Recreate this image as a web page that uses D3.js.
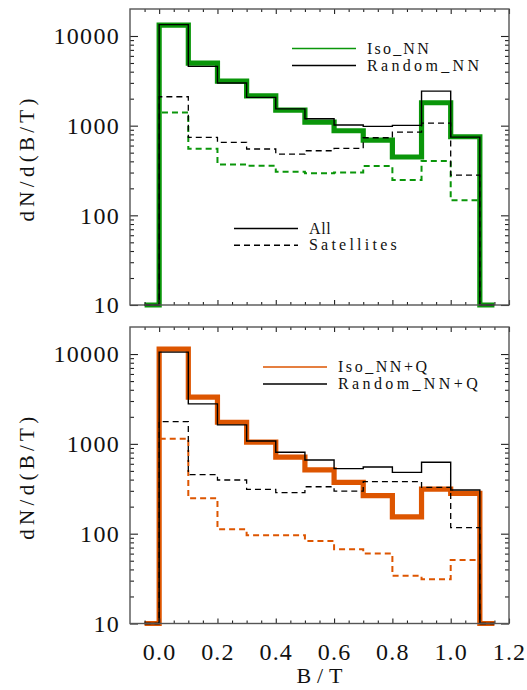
<!DOCTYPE html>
<html>
<head>
<meta charset="utf-8">
<script src="https://cdn.jsdelivr.net/npm/d3@7"></script>
<style>
  html, body { margin: 0; padding: 0; background: #fff; }
  svg { display: block; }
  text { font-family: "Liberation Serif", "Times New Roman", serif; fill: #111; }
</style>
</head>
<body>
<svg id="chart" width="527" height="690"></svg>
<script>
// ---------- data ----------
const binEdges = [0.0, 0.1, 0.2, 0.3, 0.4, 0.5, 0.6, 0.7, 0.8, 0.9, 1.0, 1.1];
const floorValue = 10;

// top panel
const isoNN_all       = [13250, 4990, 3140, 2150, 1490, 1097, 877, 691, 447, 1800, 752];
const randomNN_all    = [13400, 4580, 2990, 2070, 1540, 1194, 1016, 982, 1007, 2430, 745];
const isoNN_sat       = [1406, 553, 370, 357, 306, 294, 301, 355, 248, 403, 147];
const randomNN_sat    = [2100, 741, 652, 549, 482, 525, 558, 733, 849, 1069, 281];

// bottom panel
const isoNNQ_all      = [11350, 3310, 1740, 1043, 710, 512, 373, 265, 154, 314, 281];
const randomNNQ_all   = [10500, 2790, 1625, 1077, 806, 662, 530, 552, 482, 624, 306];
const isoNNQ_sat      = [1143, 248, 112, 96, 96, 83, 67, 60, 34, 31, 51];
const randomNNQ_sat   = [1770, 454, 396, 312, 286, 333, 298, 379, 379, 328, 117];

const yMajorTicks = [10, 100, 1000, 10000];
const xMajorTicks = [0.0, 0.2, 0.4, 0.6, 0.8, 1.0, 1.2];
const topLegend = ["Iso_NN", "Random_NN"];
const botLegend = ["Iso_NN+Q", "Random_NN+Q"];
const typeLegend = ["All", "Satellites"];

// ---------- layout ----------
const svg = d3.select("#chart");
const green = "#0a960a";
const orange = "#dd5500";
const frameColor = "#555";

const x = d3.scaleLinear().domain([-0.1, 1.2]).range([130, 509]);
const binW = 0.1;

const panels = [
  { top: 9, bottom: 305, color: green,
    series: [isoNN_all, isoNN_sat, randomNN_all, randomNN_sat],
    legend: topLegend, legendX: 292, legendY: 48.5, xLabels: false, typeLegend: true },
  { top: 327, bottom: 623.5, color: orange,
    series: [isoNNQ_all, isoNNQ_sat, randomNNQ_all, randomNNQ_sat],
    legend: botLegend, legendX: 263, legendY: 367, xLabels: true, typeLegend: false }
];

function histPoints(vals) {
  const pts = [[binEdges[0] - binW / 2, floorValue]];
  vals.forEach((v, i) => pts.push([binEdges[i], v]));
  pts.push([binEdges[binEdges.length - 1], floorValue]);
  pts.push([binEdges[binEdges.length - 1] + binW / 2, floorValue]);
  return pts;
}

const xMinor = d3.range(-0.05, 1.2001, 0.05)
  .map(v => Math.round(v * 100) / 100)
  .filter(v => !xMajorTicks.some(m => Math.abs(m - v) < 1e-6));

panels.forEach(p => {
  const y = d3.scaleLog().domain([10, 20000]).range([p.bottom, p.top]);
  const g = svg.append("g");
  const yMinor = y.ticks().filter(v => !yMajorTicks.includes(v) && v < 20000);

  const line = d3.line()
    .x(d => x(d[0]))
    .y(d => y(d[1]))
    .curve(d3.curveStepAfter);

  // data lines
  const styles = [
    { color: p.color, width: 5.2, dash: null },
    { color: p.color, width: 2, dash: "6,4" },
    { color: "#000", width: 1.4, dash: null },
    { color: "#000", width: 1.3, dash: "6,4" }
  ];
  p.series.forEach((vals, i) => {
    const s = styles[i];
    g.append("path")
      .attr("d", line(histPoints(vals)))
      .attr("fill", "none")
      .attr("stroke", s.color)
      .attr("stroke-width", s.width)
      .attr("stroke-linejoin", "miter")
      .attr("stroke-dasharray", s.dash);
  });

  // axes (ticks inward)
  const axL = g.append("g").attr("transform", `translate(${x.range()[0]},0)`)
    .call(d3.axisLeft(y).tickValues(yMajorTicks).tickSizeInner(-8).tickSizeOuter(0)
      .tickPadding(10).tickFormat(d3.format("d")));
  axL.selectAll("text").attr("font-size", 24).attr("letter-spacing", 1.3)
    .attr("dy", "0.33em").style("font-family", "Liberation Serif");
  g.append("g").attr("transform", `translate(${x.range()[0]},0)`)
    .call(d3.axisLeft(y).tickValues(yMinor).tickSizeInner(-4).tickSizeOuter(0).tickFormat(""));
  g.append("g").attr("transform", `translate(${x.range()[1]},0)`)
    .call(d3.axisRight(y).tickValues(yMajorTicks).tickSizeInner(-8).tickSizeOuter(0).tickFormat(""));
  g.append("g").attr("transform", `translate(${x.range()[1]},0)`)
    .call(d3.axisRight(y).tickValues(yMinor).tickSizeInner(-4).tickSizeOuter(0).tickFormat(""));

  const axB = g.append("g").attr("transform", `translate(0,${p.bottom})`)
    .call(d3.axisBottom(x).tickValues(xMajorTicks).tickSizeInner(-5).tickSizeOuter(0)
      .tickPadding(19).tickFormat(p.xLabels ? d3.format(".1f") : ""));
  axB.selectAll("text").attr("font-size", 24).attr("letter-spacing", 1.2)
    .style("font-family", "Liberation Serif");
  g.append("g").attr("transform", `translate(0,${p.bottom})`)
    .call(d3.axisBottom(x).tickValues(xMinor).tickSizeInner(-3).tickSizeOuter(0).tickFormat(""));
  g.append("g").attr("transform", `translate(0,${p.top})`)
    .call(d3.axisTop(x).tickValues(xMajorTicks).tickSizeInner(-5).tickSizeOuter(0).tickFormat(""));
  g.append("g").attr("transform", `translate(0,${p.top})`)
    .call(d3.axisTop(x).tickValues(xMinor).tickSizeInner(-3).tickSizeOuter(0).tickFormat(""));

  g.selectAll(".domain").remove();
  g.selectAll(".tick line").attr("stroke", "#222").attr("stroke-width", 1.1);

  // frame
  g.append("rect")
    .attr("x", x.range()[0]).attr("y", p.top)
    .attr("width", x.range()[1] - x.range()[0]).attr("height", p.bottom - p.top)
    .attr("fill", "none").attr("stroke", frameColor).attr("stroke-width", 1.4);

  // y title
  const cy = (p.top + p.bottom) / 2 + 3;
  g.append("text")
    .attr("transform", `translate(33.5,${cy}) rotate(-90)`)
    .attr("text-anchor", "middle")
    .attr("font-size", 21)
    .attr("textLength", 123).attr("lengthAdjust", "spacing")
    .text("dN/d(B/T)");

  // color legend
  const lw = [61.7, 112];
  const lwQ = [89, 139.7];
  p.legend.forEach((lab, i) => {
    const ly = p.legendY + i * 17;
    g.append("line")
      .attr("x1", p.legendX).attr("x2", p.legendX + 64)
      .attr("y1", ly).attr("y2", ly)
      .attr("stroke", i === 0 ? p.color : "#000").attr("stroke-width", 1.5);
    g.append("text")
      .attr("x", p.legendX + 75).attr("y", ly + 5)
      .attr("font-size", 16)
      .attr("textLength", (p.xLabels ? lwQ : lw)[i]).attr("lengthAdjust", "spacing")
      .text(lab);
  });

  if (p.typeLegend) {
    const tw = [21.7, 87.7];
    typeLegend.forEach((lab, i) => {
      const ly = 228.5 + i * 16.7;
      g.append("line")
        .attr("x1", 234).attr("x2", 298)
        .attr("y1", ly).attr("y2", ly)
        .attr("stroke", "#000").attr("stroke-width", 1.4)
        .attr("stroke-dasharray", i === 0 ? null : "6,4");
      g.append("text")
        .attr("x", 309).attr("y", ly + 5)
        .attr("font-size", 16)
        .attr("textLength", tw[i]).attr("lengthAdjust", "spacing")
        .text(lab);
    });
  }
});

// x title
svg.append("text")
  .attr("x", 319.5).attr("y", 683)
  .attr("text-anchor", "middle")
  .attr("font-size", 22)
  .attr("textLength", 46).attr("lengthAdjust", "spacing")
  .text("B/T");
</script>
</body>
</html>
